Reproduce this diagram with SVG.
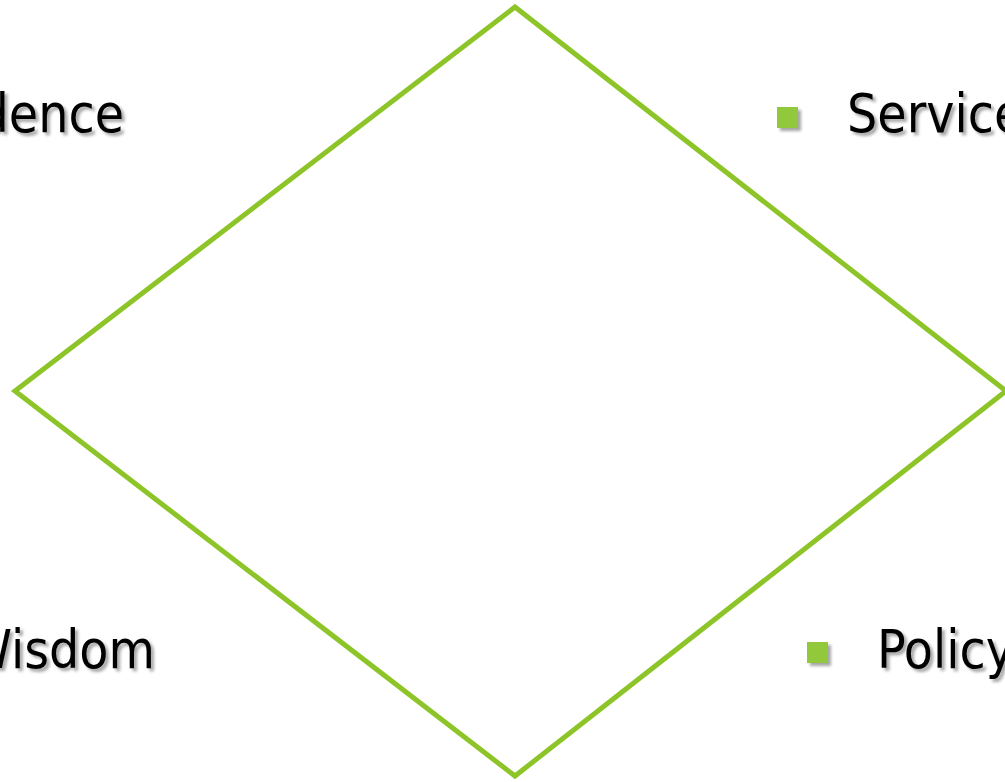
<svg xmlns="http://www.w3.org/2000/svg" width="1005" height="782" viewBox="0 0 1005 782">
<defs>
<style>
.lbl{font-family:"DejaVu Sans Condensed","DejaVu Sans",Tahoma,sans-serif;font-stretch:condensed;font-size:53px;fill:#000;filter:url(#sh)}
.bul{fill:#92C83A;filter:url(#sh)}
.dia{fill:none;stroke:#8DC428;stroke-width:5;stroke-linejoin:miter}
</style>
<filter id="sh" x="-20%" y="-20%" width="150%" height="150%">
<feDropShadow dx="3" dy="3" stdDeviation="1.5" flood-color="#000" flood-opacity="0.35"/>
</filter>
</defs>
<rect width="1005" height="782" fill="#fff"/>
<g id="diamond">
<polygon class="dia" points="515,7 1006,391 515,776 15,391"/>
</g>
<g id="connectors"></g>
<g id="evidence"><text class="lbl" x="124" y="132" text-anchor="end">Evidence</text></g>
<g id="wisdom"><text class="lbl" x="155" y="668" text-anchor="end">Wisdom</text></g>
<g id="service"><rect class="bul" x="777" y="107" width="21" height="21"/><text class="lbl" x="847" y="132">Service</text></g>
<g id="policy"><rect class="bul" x="807" y="642" width="21" height="21"/><text class="lbl" x="877" y="668">Policy</text></g>
</svg>
